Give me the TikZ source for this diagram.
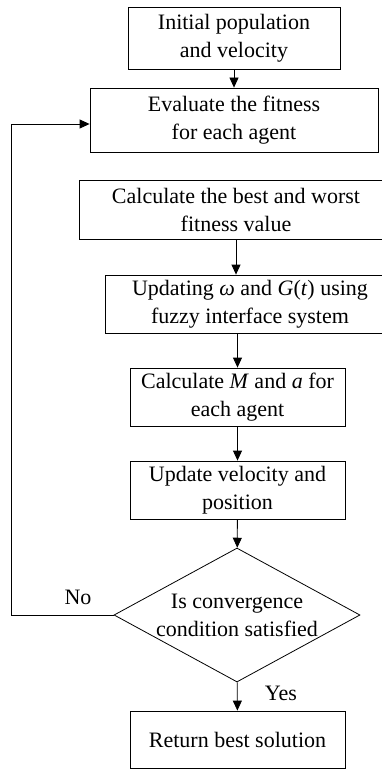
\documentclass[tikz,border=0pt]{standalone}
\usepackage{fontspec}
\setmainfont{Liberation Serif}
\usetikzlibrary{arrows.meta,shapes.geometric}

\tikzset{
  stepbox/.style={draw, line width=0.8pt, rectangle, align=center, inner sep=0pt},
  decbox/.style={draw, line width=0.8pt, diamond, inner sep=0pt},
  flow/.style={line width=0.8pt, -{Triangle[length=10pt,width=9pt]}},
  link/.style={line width=0.8pt}
}

\begin{document}
\begin{tikzpicture}[x=1pt, y=-1pt, font=\fontsize{22}{28}\selectfont]

		\useasboundingbox (0,0) rectangle (382,770);

		% Boxes of the main column
		\node[stepbox, minimum width=212pt, minimum height=62pt] (init) at (234,38) {Initial population\\and velocity};
		\node[stepbox, minimum width=288pt, minimum height=64pt] (eval) at (234,120) {Evaluate the fitness\\for each agent};
		\node[stepbox, minimum width=314pt, minimum height=59pt] (best) at (236,209.5) {Calculate the best and worst\\fitness value};
		\node[stepbox, minimum width=290pt, minimum height=58pt] (fuzzy) at (250,304) {Updating \textit{ω} and \textit{G}(\textit{t}) using\\fuzzy interface system};
		\node[stepbox, minimum width=215pt, minimum height=58pt] (mass) at (237.5,397) {Calculate \textit{M} and \textit{a} for\\each agent};
		\node[stepbox, minimum width=215pt, minimum height=58pt] (upd) at (237.5,490) {Update velocity and\\position};

		% Stopping test
		\node[decbox, minimum width=246pt, minimum height=134pt] (conv) at (237,615) {};
		\node[align=center] (convtext) at (conv.center) {Is convergence\\condition satisfied};
		\node[stepbox, minimum width=215pt, minimum height=57pt] (ret) at (237.5,739.5) {Return best solution};

		% Arrows down the column
		\draw[flow] (init) -- (eval);
		\draw[flow] (best.south) -- (best.south |- fuzzy.north);
		\draw[flow] (mass.north |- fuzzy.south) -- (mass.north);
		\draw[flow] (mass) -- (upd);
		\draw[flow] (upd) -- (conv);
		\draw[flow] (conv) -- (ret);
		\node (yes) at (281,693) {Yes};

		% Loop back when not converged
		\coordinate (back) at (11,124);
		\draw[link] (conv.west) -| (back);
		\draw[flow] (back) -- (back -| eval.west);
		\node (no) at (78,597) {No};

	\end{tikzpicture}
\end{document}
